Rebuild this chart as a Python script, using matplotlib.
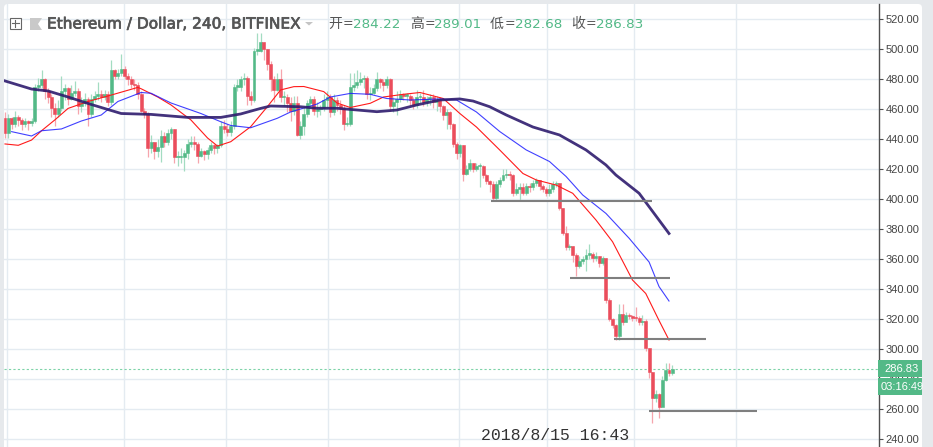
import matplotlib
matplotlib.use('Agg')
import matplotlib.pyplot as plt
import matplotlib.patheffects as pe
from matplotlib.patches import Rectangle, FancyBboxPatch, Polygon

first_open = 454
closes = [444, 454, 450, 455, 453, 450, 452, 450.5, 452, 475,
          476, 480, 472, 468, 461, 457, 461, 472, 474, 467,
          471, 472, 462, 464, 467, 457, 467, 469, 470, 468,
          470, 465, 486, 482, 484, 487, 482, 480, 477, 476,
          470, 459, 457, 434, 438, 432, 435, 442, 438, 444,
          447, 428, 428, 428, 431, 437, 438, 437, 429, 432,
          430, 433, 436, 434, 436, 449, 447, 445, 449, 475,
          475, 480, 481, 469, 466, 499, 499, 505, 500, 490,
          480, 473, 480, 468, 468, 464, 459, 464, 443, 449,
          457, 464, 467, 459, 460, 461, 466, 468, 458, 466,
          463, 461, 450, 450, 475, 476, 478, 480, 481, 470,
          471, 474, 480, 478, 476, 480, 462, 465, 467, 470,
          469, 469, 466, 463, 468, 468, 465, 467, 468, 465,
          466, 462, 456, 458, 450, 437, 431, 436, 417, 420,
          424, 420, 422, 422, 416, 412, 410, 401, 410, 413,
          416, 417, 416, 404, 407, 408, 404, 409, 408, 411,
          413, 409, 407, 404, 407, 410, 411, 394, 377.5, 368,
          369, 363, 355.5, 359, 360, 363, 363.5, 360.5, 362, 357.5,
          360.5, 332.7, 320, 316, 309, 323.3, 318, 322.5, 322, 321,
          320.5, 318, 318.5, 300.5, 284.5, 267.5, 270, 261.5, 279.3, 286,
          284.22, 286.83]
highs = [458, 457, 455, 459, 456, 454, 454, 453, 454, 477,
         481, 486, 481, 474, 470, 464, 466, 482, 477, 475,
         476, 479, 474, 468, 471, 468, 470, 472, 478, 473,
         473, 472, 493, 487, 487, 497, 489, 484, 482, 480,
         478, 472, 461, 458, 443, 438, 440, 446, 445, 447,
         448, 447, 432, 434, 433, 440, 442, 442, 438, 434,
         433, 435, 438, 437, 437, 452, 453, 450, 452, 477,
         480, 482, 484, 482, 472, 501, 511, 511, 505, 500,
         492, 482, 484, 487, 472, 470, 468, 469, 469, 452,
         462, 466, 469, 469, 465, 463, 470, 472, 470, 470,
         468, 466, 463, 455, 484, 484, 486, 485, 483, 482,
         475, 477, 485, 481, 480, 482, 481, 468, 472, 473,
         471, 471, 470, 468, 473, 471, 473, 469, 470, 470,
         469, 468, 463, 460, 459, 451, 438, 437, 436, 423,
         427, 424, 424, 424, 423, 417, 413, 412, 412, 415,
         420, 420, 419, 417, 411, 411, 411, 411, 411, 413,
         414, 413, 410, 408, 410, 412, 412, 411, 394, 382,
         370, 369, 364, 362, 362, 367, 370, 365, 365, 362,
         362, 361, 334, 321, 317, 330, 330, 325, 324, 323,
         328, 322, 323, 320, 301, 285, 273, 271, 282, 291,
         291, 289.01]
lows = [441, 441, 447, 448, 449, 446, 448, 446, 449, 451,
        472, 474, 467, 464, 455, 449, 455, 459, 466, 463,
        466, 469, 457, 458, 462, 449, 455, 465, 466, 465,
        466, 462, 463, 480, 480, 482, 480, 476, 474, 473,
        467, 458, 454, 428, 431, 427, 428, 425, 435, 436,
        440, 424, 422, 424, 419, 427, 435, 433, 424, 428,
        426, 427, 431, 430, 431, 435, 444, 442, 442, 447,
        472, 472, 476, 463, 463, 465, 496, 498, 493, 486,
        472, 465, 472, 465, 462, 458, 452, 456, 442, 440,
        443, 455, 462, 456, 455, 456, 459, 461, 455, 456,
        459, 457, 446, 449, 449, 472, 474, 476, 474, 467,
        466, 470, 472, 474, 472, 474, 459, 458, 456, 465,
        466, 465, 463, 460, 461, 464, 462, 462, 463, 461,
        459, 458, 453, 447, 447, 435, 427, 428, 412, 416,
        419, 418, 419, 408, 414, 410, 405, 399, 399, 408,
        412, 414, 413, 402, 403, 399, 403, 403, 405, 406,
        409, 406, 405, 402, 402, 405, 408, 393, 376, 366,
        366, 358, 349, 354, 357, 352, 360, 358, 359, 355,
        356, 331, 319, 314, 306, 306, 316, 318, 320, 319,
        319, 316, 316, 299, 281, 251, 265, 254, 262, 279,
        282, 282.68]

dark_idx = [0, 8, 13, 19, 26, 32, 35, 44, 55, 65, 71, 77, 80, 89, 94, 100, 112, 118, 124, 131,
            137, 141, 146, 151, 159, 167, 175, 181, 184, 191, 200]
dark_ma = [478.7, 473.3, 472, 468, 463, 459, 457, 456.4, 454.4, 454.4, 456.7, 460.4, 462, 461.5, 460.5,
           460.5, 458.2, 459.3, 462.7, 466, 466.7, 465.3, 461.5, 456, 448, 442.7, 432.7, 422.7, 416, 403.8, 377]
blue_idx = [2, 8, 11, 17, 23, 29, 34, 41, 44, 50, 59, 65, 68, 74, 82, 86, 94, 98, 104, 110, 115, 122,
            131, 136, 142, 149, 157, 164, 169, 174, 181, 188, 194, 197, 200]
blue_ma = [444.9, 442, 445.5, 446.7, 452, 456, 465, 471, 470.5, 464, 457, 451.5, 449, 447.5, 453.8, 458,
           463.3, 468, 470.4, 469.8, 467, 466, 466.7, 466, 458, 445, 432.7, 425, 415, 402.7, 390.4, 373.8,
           358, 341.6, 332]
red_idx = [0, 4, 8, 11, 15, 19, 25, 32, 40, 41, 46, 50, 56, 61, 64, 68, 74, 79, 83, 87, 90, 96, 100, 104,
           110, 114, 120, 125, 132, 137, 142, 149, 156, 160, 166, 171, 178, 183, 189, 193, 197, 200]
red_ma = [436.7, 435.8, 439.3, 445.5, 452.7, 460.4, 465, 469.3, 474.4, 473.5, 468, 462.7, 452.7, 440.7,
          435.3, 438.2, 448.2, 461.5, 472.7, 474.9, 475, 471.6, 464, 461, 463.8, 468, 469.8, 471, 467,
          457, 448, 432.7, 417, 412.7, 409.3, 403.8, 386, 371.5, 346, 337, 319, 306]

support_price = [399, 347.5, 306.7, 259]
support_start = [146.5, 170.2, 183.4, 194]
support_end = [195, 200.3, 211.2, 226.5]

price_ticks = list(range(240, 521, 20))
time_grid = [0.6, 35.8, 66.5, 97.3, 136.7, 163.2, 189.5, 220.2]
last_price = 286.83

title = 'Ethereum / Dollar, 240, BITFINEX'
ohlc_names = ['开', '高', '低', '收']
ohlc_values = ['284.22', '289.01', '282.68', '286.83']

W, H = 933, 447
UP = '#53b987'
DOWN = '#eb4d5c'

fig = plt.figure(figsize=(W / 100, H / 100), dpi=100, facecolor='#e6e9ec')

bg = fig.add_axes([0, 0, 1, 1], zorder=0)
bg.set_xlim(0, W)
bg.set_ylim(H, 0)
bg.axis('off')
bg.add_patch(FancyBboxPatch((4, 4), 918, 460, boxstyle='round,pad=0,rounding_size=4', fc='white', ec='none'))

ax = fig.add_axes([4 / W, 0, 874.5 / W, 443 / H], zorder=1)
ax.patch.set_alpha(0)
ax.set_xlim(-0.3, 263.1)
ax.set_ylim(234.67, 530)
for s in ['top', 'left', 'bottom']:
    ax.spines[s].set_visible(False)
ax.spines['right'].set_color('#4f4f4f')
ax.spines['right'].set_linewidth(1)
ax.yaxis.tick_right()
ax.set_yticks(price_ticks)
ax.set_yticklabels(['%.2f' % p for p in price_ticks], family='Liberation Sans', fontsize=8, color='#444444')
ax.tick_params(axis='y', length=3, width=0.8, color='#4f4f4f', pad=2)
ax.set_xticks([])
ax.set_axisbelow(True)
ax.grid(axis='y', color='#e4ebf1', lw=1)
for g in time_grid:
    ax.axvline(g, color='#e4ebf1', lw=1, zorder=0)

opens = [first_open] + closes[:-1]
opens[-1] = 284.22
for i in range(len(closes)):
    c = UP if closes[i] >= opens[i] else DOWN
    wick = '#a3dcc1' if closes[i] >= opens[i] else '#f6a5ad'
    ax.vlines(i, lows[i], highs[i], color=wick, lw=0.9, zorder=2)
    bottom = min(opens[i], closes[i])
    height = max(abs(closes[i] - opens[i]), 0.9)
    ax.bar(i, height, bottom=bottom, width=0.9, color=c, ec=c, lw=0.4, zorder=3)

ax.plot(red_idx, red_ma, color='#ff1a1a', lw=0.8, zorder=4)
ax.plot(blue_idx, blue_ma, color='#1f1fff', lw=0.8, alpha=0.85, zorder=4)
ax.plot(dark_idx, dark_ma, color='#2e1c6e', lw=2, alpha=0.9, zorder=5)
ax.hlines(support_price, support_start, support_end, color='#7f7f7f', lw=1.5, zorder=6)
ax.axhline(last_price, color='#7dd3a8', lw=0.8, ls=(0, (2, 2)), zorder=1)

top = fig.add_axes([0, 0, 1, 1], zorder=2)
top.patch.set_alpha(0)
top.set_xlim(0, W)
top.set_ylim(H, 0)
top.axis('off')

# header icons
top.add_patch(Rectangle((9.5, 17.5), 11.5, 11.5, fc='white', ec='#666666', lw=0.8))
top.plot([11.5, 19], [23.2, 23.2], color='#666666', lw=0.8)
top.plot([15.2, 15.2], [19.5, 27], color='#666666', lw=0.8)
top.add_patch(Polygon([(30, 18), (42, 18), (38, 24), (42, 30), (30, 30)], fc='#c9c9c9', ec='none'))
top.add_patch(Polygon([(305, 22), (313, 22), (309, 25.5)], fc='#c4c4c4', ec='none'))

tt = top.text(47, 24, title, family='DejaVu Sans', fontsize=11.05, color='#555555', va='center', ha='left')
tt.set_path_effects([pe.withStroke(linewidth=0.5, foreground='#555555')])

name_x = [328, 410, 490, 571]
value_x = [353, 434, 515, 596]
for n, v, nx, vx in zip(ohlc_names, ohlc_values, name_x, value_x):
    top.text(nx, 24, n, family=['Noto Sans CJK SC', 'DejaVu Sans'], fontsize=10, color='#555555', va='center')
    top.text(nx + 15, 24, '=', family='DejaVu Sans', fontsize=9, color='#555555', va='center')
    top.text(vx, 24, v, family='DejaVu Sans', fontsize=9.7, color=UP, va='center')

# price and countdown tags
top.add_patch(Rectangle((878, 360), 44, 16.5, fc=UP, ec='none'))
r2 = Rectangle((878, 377.5), 44, 17.5, fc=UP, ec='none')
top.add_patch(r2)
top.text(884.5, 368.5, '286.83', family='Liberation Sans', fontsize=8, color='white', va='center')
t = top.text(881, 386.5, '03:16:49', family='Liberation Sans', fontsize=8, color='white', va='center')
t.set_clip_path(r2)

top.text(481, 435, '2018/8/15 16:43', family='Liberation Mono', fontsize=11.9, color='#333333', va='center')

fig.savefig('out.png', dpi=100, facecolor=fig.get_facecolor())
